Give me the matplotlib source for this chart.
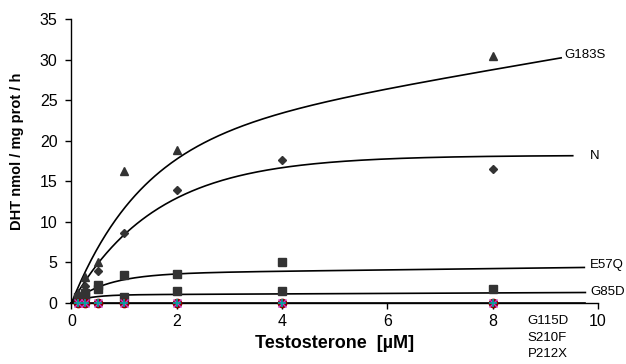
import numpy as np
import matplotlib
matplotlib.use("Agg")
import matplotlib.pyplot as plt

plt.rcParams['font.family'] = ['Liberation Sans', 'DejaVu Sans']

# ---- data ----
conc = [0.125, 0.25, 0.5, 1, 2, 4, 8]
g183s = [1.2, 3.25, 5.1, 16.3, 18.9, np.nan, 30.4]
wt_n = [1.0, 2.1, 3.9, 8.6, 13.9, 17.6, 16.5]
e57q = [0.7, 1.2, 2.2, 3.45, 3.6, 5.1, np.nan]
g85d = [0.4, 0.9, 1.7, 0.7, 1.5, 1.5, 1.7]
g115d = [0, 0, 0, 0, 0, 0, 0]
s210f = [0, 0, 0, 0, 0, 0, 0]
p212x = [0, 0, 0, 0, 0, 0, 0]

# fitted saturation curves: y = V*(1-exp(-k x)) + c*x
fit_names = ['G183S', 'N', 'E57Q', 'G85D', 'zero']
fit_V = [20.0, 18.2, 3.6, 1.0, 0.0]
fit_k = [0.75, 0.62, 1.5, 3.0, 1.0]
fit_c = [1.1, 0.0, 0.08, 0.03, 0.0]
fit_xmax = [9.3, 9.52, 9.74, 9.76, 9.76]

curve_labels = ['G183S', 'N', 'E57Q', 'G85D']
label_x = [9.36, 9.85, 9.85, 9.85]
label_y = [30.55, 18.1, 4.7, 1.4]
bottom_label = "G115D\nS210F\nP212X"

fig = plt.figure(figsize=(6.26, 3.64), dpi=100)
ax = fig.add_axes([0.1142, 0.1676, 0.8411, 0.7802])

for V, k, c, xm in zip(fit_V, fit_k, fit_c, fit_xmax):
    xs = np.linspace(0, xm, 300)
    ax.plot(xs, V * (1 - np.exp(-k * xs)) + c * xs, color='black', lw=1.2,
            zorder=2, clip_on=False)

mc = '#333333'
ax.plot(conc, g183s, '^', color=mc, ms=6, ls='none', zorder=3)
ax.plot(conc, wt_n, 'D', color=mc, ms=3.8, ls='none', zorder=3)
ax.plot(conc, e57q, 's', color=mc, ms=5.3, ls='none', zorder=3)
ax.plot(conc, g85d, 's', color=mc, ms=5.3, ls='none', zorder=3)
ax.plot(conc, g115d, 'o', color='#8B0000', ms=6, ls='none', zorder=4, clip_on=False)
ax.plot(conc, s210f, 'x', color='#CC33CC', ms=5.5, mew=1, ls='none', zorder=5, clip_on=False)
ax.plot(conc, p212x, '+', color='#00A3A3', ms=5.5, mew=1.2, ls='none', zorder=6, clip_on=False)

for t, lx, ly in zip(curve_labels, label_x, label_y):
    ax.text(lx, ly, t, fontsize=9.5, va='center', ha='left')
ax.text(8.66, -1.5, bottom_label, fontsize=9.5, va='top', ha='left',
        linespacing=1.5)

ax.set_xlim(0, 10)
ax.set_ylim(0, 35)
ax.set_xticks([0, 2, 4, 6, 8, 10])
ax.set_yticks([0, 5, 10, 15, 20, 25, 30, 35])
ax.spines['top'].set_visible(False)
ax.spines['right'].set_visible(False)
for s in ('left', 'bottom'):
    ax.spines[s].set_linewidth(1.0)
ax.tick_params(direction='out', length=4.5, width=1, labelsize=11.5)
ax.tick_params(axis='y', pad=5.5)
ax.tick_params(axis='x', pad=3.5)

ax.set_xlabel('Testosterone  [µM]', fontsize=13, fontweight='bold')
ax.set_ylabel('DHT nmol / mg prot / h', fontsize=10.5, fontweight='bold')
ax.xaxis.set_label_coords(0.5005, -0.141)
ax.yaxis.set_label_coords(-0.1026, 0.535)
ax.xaxis.label.set_va('center')
ax.yaxis.label.set_va('center')

fig.savefig('out.png', dpi=100)
